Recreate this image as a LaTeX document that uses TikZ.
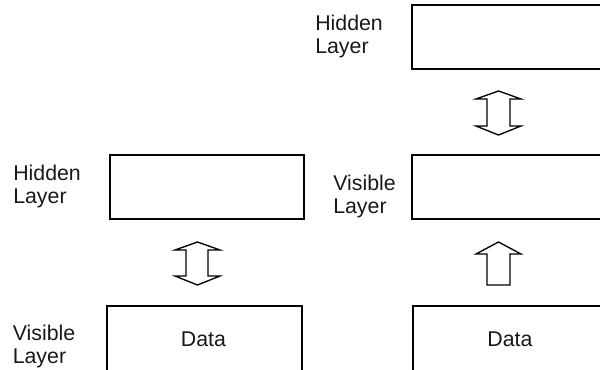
\documentclass[tikz,border=0pt]{standalone}
\usepackage{fontspec}
\setmainfont{Liberation Sans}
\begin{document}
\begin{tikzpicture}[x=0.75pt,y=-0.75pt,
  box/.style={draw=black,line width=1.5pt,inner sep=0pt,fill=white},
  lbl/.style={anchor=north west,inner sep=0pt,align=left,font=\fontsize{16pt}{17.6pt}\selectfont,text=black!90},
  txt/.style={inner sep=0pt,font=\fontsize{16pt}{17.6pt}\selectfont,text=black!90},
  arr/.style={draw=black,line width=1pt,line join=miter}]
\useasboundingbox (0,0) rectangle (600,370);
\fill[white] (0,0) rectangle (600,370);
\clip (0,0) rectangle (600,370);
% left column
\node[box,minimum width={194*0.75pt},minimum height={64*0.75pt}] (lh) at (207,187) {};
\node[box,minimum width={195*0.75pt},minimum height={90*0.75pt}] (ld) at (204.5,351) {};
\node[txt] (ldt) at (203.5,339.5) {Data};
\node[lbl] (lhl) at (13,164.5) {Hidden\\Layer};
\node[lbl] (lvl) at (12.5,324.5) {Visible\\Layer};
% right column
\node[box,minimum width={200*0.75pt},minimum height={64*0.75pt}] (rh) at (512,37) {};
\node[box,minimum width={200*0.75pt},minimum height={64*0.75pt}] (rv) at (512,187) {};
\node[box,minimum width={200*0.75pt},minimum height={90*0.75pt}] (rd) at (512.5,351) {};
\node[txt] (rdt) at (510,339.5) {Data};
\node[lbl] (rhl) at (315,14.5) {Hidden\\Layer};
\node[lbl] (rvl) at (333,174.5) {Visible\\Layer};
% arrows
\draw[arr] (197.5,242) -- (220,250) -- (208,250) -- (208,276) -- (220,276) -- (197.5,285)
  -- (175,276) -- (186,276) -- (186,250) -- (175,250) -- cycle;
\draw[arr] (498.5,91) -- (521,99) -- (510,99) -- (510,126) -- (521,126) -- (498.5,135)
  -- (476,126) -- (487,126) -- (487,99) -- (476,99) -- cycle;
\draw[arr] (498.5,242) -- (521,254) -- (510,254) -- (510,285) -- (487,285) -- (487,254)
  -- (476,254) -- cycle;
\end{tikzpicture}
\end{document}
